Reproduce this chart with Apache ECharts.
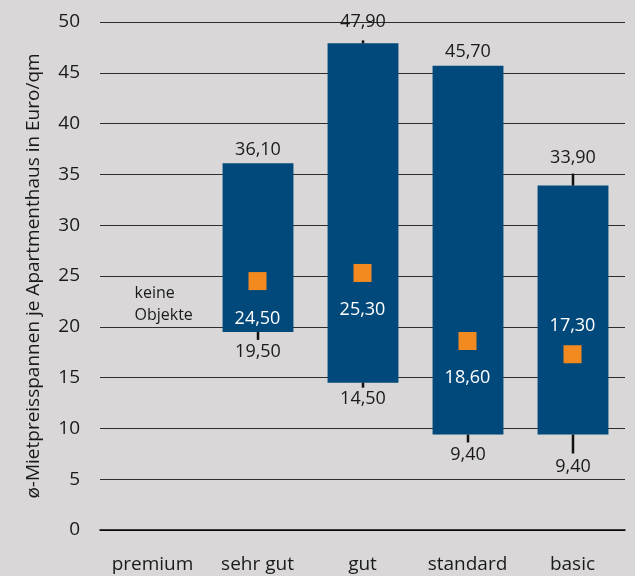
<!DOCTYPE html>
<html><head><meta charset="utf-8">
<script src="https://cdn.jsdelivr.net/npm/echarts@6/dist/echarts.min.js"></script>
<style>html,body{margin:0;padding:0;background:#d9d7d8}#c{width:635px;height:576px}</style>
</head><body><div id="c"></div>
<script>
const categories = ['premium', 'sehr gut', 'gut', 'standard', 'basic'];
const minValues = [null, 19.5, 14.5, 9.4, 9.4];
const maxValues = [null, 36.1, 47.9, 45.7, 33.9];
const avgValues = [null, 24.5, 25.3, 18.6, 17.3];
const yTicks = [0, 5, 10, 15, 20, 25, 30, 35, 40, 45, 50];
const noDataText = 'keine\nObjekte';
const noDataValue = 22.2;

// layout (pixel) tweaks per category: label gaps and stub lengths
const topLabelGap = [0, 13, 21, 14, 28];
const topStub = [0, 0, 3, 0, 12];
const botLabelGap = [0, 20, 16, 20, 32];
const botStub = [0, 8, 5, 8, 19];
const avgLabelOffset = [0, 38, 37, 37, -28];

const FONT = '"Open Sans", "Noto Sans", sans-serif';
const BAR = '#00497a';
const ORANGE = '#f38a20';
const TXT = '#1a1a1a';
const fmt = v => v.toFixed(2).replace('.', ',');

const rangeData = [];
categories.forEach((c, i) => { if (maxValues[i] != null) rangeData.push([i, minValues[i], maxValues[i]]); });
const avgData = [];
categories.forEach((c, i) => {
  if (avgValues[i] != null) avgData.push({
    value: [i, avgValues[i]],
    label: { offset: [0, avgLabelOffset[i]] }
  });
});

const chart = echarts.init(document.getElementById('c'), null, { renderer: 'canvas' });
chart.setOption({
  backgroundColor: '#d9d7d8',
  animation: false,
  grid: { left: 100, right: 10, top: 22, bottom: 46 },
  xAxis: {
    type: 'category', data: categories,
    axisLine: { show: true, lineStyle: { color: '#000000', width: 1.5 } }, axisTick: { show: false },
    axisLabel: { color: TXT, fontSize: 19, fontFamily: FONT, margin: 25, interval: 0, hideOverlap: false }
  },
  yAxis: {
    type: 'value', min: 0, max: 50, interval: 5,
    name: 'ø-Mietpreisspannen je Apartmenthaus in Euro/qm',
    nameLocation: 'middle', nameGap: 57,
    nameTextStyle: { color: TXT, fontSize: 19, fontFamily: FONT },
    axisLine: { show: false }, axisTick: { show: false },
    axisLabel: { color: TXT, fontSize: 19, fontFamily: FONT, margin: 20,
      formatter: v => yTicks.includes(v) ? String(v) : '' },
    splitLine: { lineStyle: { color: '#2e2e2e', width: 1.2 } }
  },
  series: [
    {
      type: 'custom',
      data: rangeData,
      z: 2,
      renderItem: (params, api) => {
        const x = api.value(0), lo = api.value(1), hi = api.value(2);
        const pt = api.coord([x, hi]), pb = api.coord([x, lo]);
        const bw = api.size([1, 0])[0] * 0.675;
        const cx = Math.round(pt[0]);
        const children = [
          { type: 'rect', shape: { x: cx - bw / 2, y: pt[1], width: bw, height: pb[1] - pt[1] }, style: { fill: BAR } },
          { type: 'text', style: { text: fmt(hi), x: cx, y: pt[1] - topLabelGap[x], align: 'center', verticalAlign: 'middle', fill: TXT, font: '18px ' + FONT } },
          { type: 'text', style: { text: fmt(lo), x: cx, y: pb[1] + botLabelGap[x], align: 'center', verticalAlign: 'middle', fill: TXT, font: '18px ' + FONT } }
        ];
        if (topStub[x] > 0) children.push({ type: 'line', shape: { x1: cx, y1: pt[1] - topStub[x], x2: cx, y2: pt[1] }, style: { stroke: '#111', lineWidth: 2.5 } });
        if (botStub[x] > 0) children.push({ type: 'line', shape: { x1: cx, y1: pb[1], x2: cx, y2: pb[1] + botStub[x] }, style: { stroke: '#111', lineWidth: 2.5 } });
        return { type: 'group', children };
      }
    },
    {
      type: 'scatter',
      data: avgData,
      symbol: 'rect', symbolSize: 18,
      itemStyle: { color: ORANGE, opacity: 1 },
      z: 3,
      label: { show: true, position: 'inside', color: '#ffffff', fontSize: 18, fontFamily: FONT,
        formatter: p => fmt(p.value[1]) }
    },
    {
      type: 'scatter',
      data: [[0, noDataValue]],
      symbolSize: 0,
      itemStyle: { opacity: 1 },
      label: { show: true, position: 'inside', formatter: noDataText, color: TXT, fontSize: 16, fontFamily: FONT, align: 'left', lineHeight: 22, offset: [-18, 0] }
    }
  ]
});
</script></body></html>
